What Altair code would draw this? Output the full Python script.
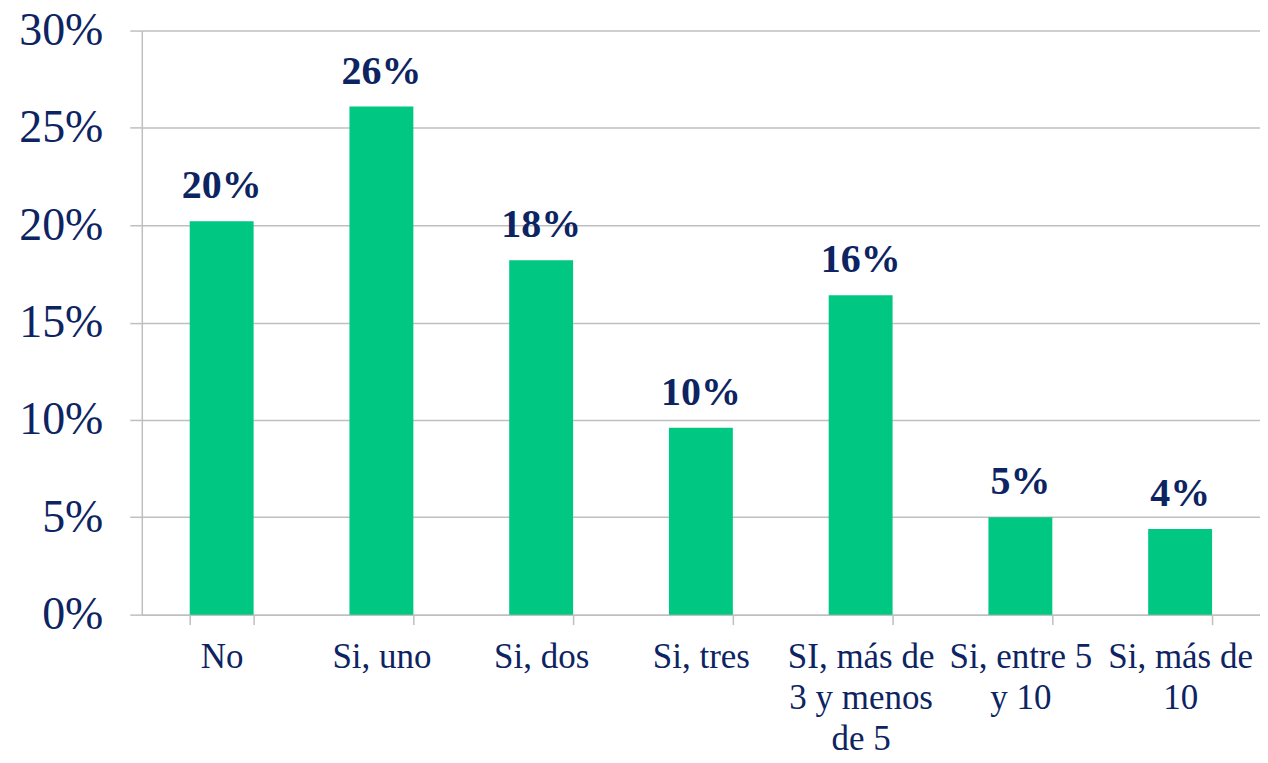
import altair as alt
import pandas as pd

categories = ["No", "Si, uno", "Si, dos", "Si, tres", "SI, más de 3 y menos de 5", "Si, entre 5 y 10", "Si, más de 10"]
label_lines = ["No", "Si, uno", "Si, dos", "Si, tres", "SI, más de|3 y menos|de 5", "Si, entre 5|y 10", "Si, más de|10"]
values = [0.202, 0.261, 0.182, 0.096, 0.164, 0.050, 0.044]
value_labels = ["20%", "26%", "18%", "10%", "16%", "5%", "4%"]

df = pd.DataFrame({"cat": label_lines, "value": values, "lab": value_labels})

navy = "#0D2462"
font = "Liberation Serif"

x = alt.X("cat:N", sort=label_lines, title=None,
          scale=alt.Scale(paddingInner=0.6, paddingOuter=0.3),
          axis=alt.Axis(labelExpr="split(datum.label, '|')", labelAngle=0,
                        labelFont=font, labelFontSize=35, labelColor=navy,
                        labelLineHeight=41, labelPadding=15,
                        domainColor="#BFBFBF", domainWidth=1.5,
                        tickColor="#BFBFBF", tickSize=10, tickWidth=1.5,
                        tickBand="extent", grid=False, labelLimit=300))

y = alt.Y("value:Q", title=None,
          scale=alt.Scale(domain=[0, 0.30]),
          axis=alt.Axis(format=".0%", values=[0, 0.05, 0.1, 0.15, 0.2, 0.25, 0.3],
                        labelFont=font, labelFontSize=46, labelColor=navy,
                        labelPadding=27, tickSize=12, tickColor="#BFBFBF", tickWidth=1.5,
                        domainColor="#BFBFBF", domainWidth=1.5,
                        gridColor="#BFBFBF", gridWidth=1.5))

bars = alt.Chart(df).mark_bar(color="#00C781").encode(x=x, y=y)
text = alt.Chart(df).mark_text(font=font, fontSize=40, fontWeight="bold", color=navy,
                              baseline="alphabetic", dy=-23).encode(x=alt.X("cat:N", sort=label_lines), y="value:Q", text="lab:N")

chart = (bars + text).properties(
    width=1120, height=585,
    autosize=alt.AutoSizeParams(type="none"),
    padding={"left": 134, "top": 22, "right": 0, "bottom": 140},
).configure_view(stroke=None)

chart.save("out.html", embed_options={"renderer": "svg", "actions": False})
